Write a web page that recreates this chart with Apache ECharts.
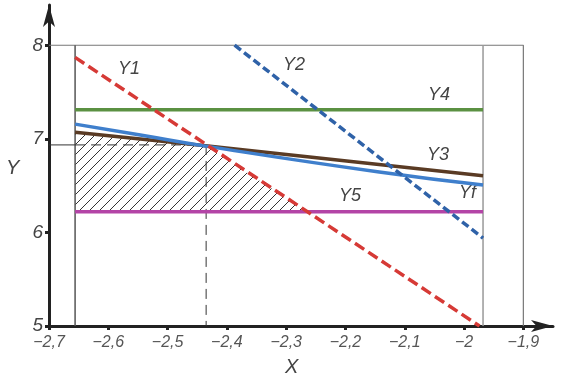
<!DOCTYPE html>
<html>
<head>
<meta charset="utf-8">
<script src="https://cdn.jsdelivr.net/npm/echarts@6/dist/echarts.min.js"></script>
<style>html,body{margin:0;padding:0;background:#fff}#c{width:566px;height:381px}</style>
</head>
<body>
<div id="c"></div>
<script>
// ---- data ----
const xTicks = [-2.7, -2.6, -2.5, -2.4, -2.3, -2.2, -2.1, -2.0, -1.9];
const yTicks = [5, 6, 7, 8];
const xLeft = -2.656, xRight = -1.968;
const y1 = [[-2.656, 7.87], [-1.974, 5.0]];
const y2 = [[-2.387, 8.0], [-1.968, 5.94]];
const y3 = [[-2.656, 7.07], [-2.436, 6.925], [-1.968, 6.605]];
const yf = [[-2.656, 7.157], [-2.546, 7.04], [-2.436, 6.922], [-2.143, 6.645], [-1.968, 6.506]];
const y4 = [[-2.656, 7.31], [-1.968, 7.31]];
const y5 = [[-2.656, 6.22], [-1.968, 6.22]];
const hatchTop = [[-2.656, 7.07], [-2.436, 6.925], [-2.264, 6.22]];
const hatchBase = 6.22;
const crossX = -2.435, crossY = 6.935;
const seriesNames = ['Y1', 'Y2', 'Y3', 'Yf', 'Y4', 'Y5'];

// hatch pattern
const pc = document.createElement('canvas');
pc.width = 10; pc.height = 10;
const pctx = pc.getContext('2d');
pctx.strokeStyle = '#333'; pctx.lineWidth = 1;
pctx.beginPath();
pctx.moveTo(0, 10); pctx.lineTo(10, 0);
pctx.moveTo(-1, 1); pctx.lineTo(1, -1);
pctx.moveTo(9, 11); pctx.lineTo(11, 9);
pctx.stroke();

const fmt = v => {
  const r = Math.round(v * 10) / 10;
  return String(r).replace('.', ',').replace('-', '\u2212');
};

function line(data, color, width, type, z) {
  return {type: 'line', data, showSymbol: false, symbol: 'none', silent: true, z: z || 3,
    lineStyle: {color, width, type: type || 'solid'}, animation: false};
}
function lbl(text, left, top, size) {
  return {type: 'text', left, top, style: {text, fontFamily: 'Liberation Sans', fontStyle: 'italic',
    fontSize: size || 18, fill: '#444'}};
}

const chart = echarts.init(document.getElementById('c'));
chart.setOption({
  animation: false,
  grid: {left: 49, right: 13, top: 5, bottom: 55},
  xAxis: {
    type: 'value', min: -2.7, max: -1.85,
    axisLine: {lineStyle: {color: '#222', width: 3}, symbol: ['none', 'arrow'], symbolSize: [9, 22]},
    axisTick: {customValues: xTicks, length: 4, lineStyle: {color: '#222', width: 3}},
    axisLabel: {customValues: xTicks, formatter: fmt, margin: 9, fontSize: 16,
      fontFamily: 'Liberation Sans', fontStyle: 'italic', color: '#555'},
    splitLine: {show: false}
  },
  yAxis: {
    type: 'value', min: 5, max: 8.43,
    axisLine: {lineStyle: {color: '#222', width: 3}, symbol: ['none', 'arrow'], symbolSize: [9, 22]},
    axisTick: {customValues: yTicks, length: 4, lineStyle: {color: '#222', width: 3}},
    axisLabel: {customValues: yTicks, margin: 6, fontSize: 19,
      fontFamily: 'Liberation Sans', fontStyle: 'italic', color: '#444'},
    splitLine: {show: false}
  },
  series: [
    // frame
    line([[-2.7, 8], [-1.9, 8], [-1.9, 5]], '#777', 1.2, 'solid', 1),
    line([[xLeft, 8], [xLeft, 5]], '#555', 1.5, 'solid', 1),
    line([[xRight, 8], [xRight, 5]], '#999', 1.5, 'solid', 1),
    // projection lines
    line([[-2.7, crossY], [xLeft, crossY]], '#333', 1, 'solid', 1),
    line([[xLeft, crossY], [crossX, crossY]], '#333', 1, [10, 6], 1),
    line([[crossX, crossY], [crossX, 5]], '#333', 1, [10, 6], 1),
    // hatch
    {type: 'line', data: hatchTop, showSymbol: false, symbol: 'none', z: 0, silent: true,
      lineStyle: {width: 0}, areaStyle: {origin: hatchBase, color: {image: pc, repeat: 'repeat'}, opacity: 1}},
    // curves
    line(y4, '#5b9142', 3.5, 'solid', 3),
    line(y5, '#b344a6', 3.5, 'solid', 3),
    line(y3, '#5a3b24', 3.5, 'solid', 3),
    Object.assign(line(yf, '#3f7fcc', 3.5, 'solid', 4), {smooth: true}),
    line(y1, '#d63a36', 3.5, [11, 5], 5),
    line(y2, '#2f62a8', 3.5, [8, 4], 5)
  ],
  graphic: [
    lbl(seriesNames[0], 118, 60),
    lbl(seriesNames[1], 283, 56),
    lbl(seriesNames[2], 427, 146),
    lbl(seriesNames[3], 459, 184),
    lbl(seriesNames[4], 428, 86),
    lbl(seriesNames[5], 339, 187),
    lbl('X', 285, 357, 20),
    lbl('Y', 6, 158, 20)
  ]
});
</script>
</body>
</html>
